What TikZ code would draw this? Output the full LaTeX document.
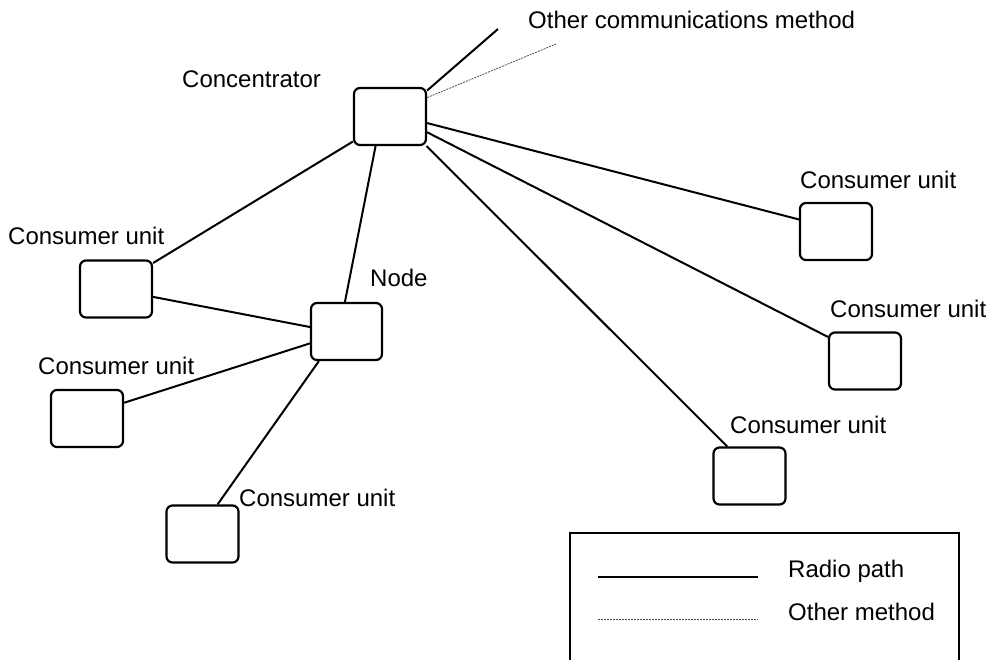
\documentclass[tikz,border=0pt]{standalone}
\usepackage{fontspec}
\setmainfont{Liberation Sans}
\begin{document}
\begin{tikzpicture}[x=1pt,y=-1pt,
  unit/.style={draw,line width=2.2pt,rounded corners=6pt,minimum width=72pt,minimum height=57pt,inner sep=0pt},
  lbl/.style={anchor=base west,inner sep=0pt,font=\fontsize{24}{28}\selectfont},
  radio/.style={line width=2pt},
  othermeth/.style={line width=0.8pt,gray!60!black,dash pattern=on 2pt off 1pt}]
\useasboundingbox (0,0) rectangle (990,659);
% units
\node[unit] (conc) at (390,116.5) {};
\node[unit] (l1) at (116,289) {};
\node[unit,minimum width=71pt] (nd) at (346.5,331.5) {};
\node[unit] (l2) at (87,418.5) {};
\node[unit] (bot) at (202.5,534) {};
\node[unit] (r1) at (836,231.5) {};
\node[unit] (r2) at (865,361) {};
\node[unit] (r3) at (749.5,476) {};
% labels
\node[lbl] (tother) at (528,28) {Other communications method};
\node[lbl] (tconc) at (182,87) {Concentrator};
\node[lbl] (tl1) at (8,244) {Consumer unit};
\node[lbl] (tnode) at (370,286) {Node};
\node[lbl] (tl2) at (38,374) {Consumer unit};
\node[lbl] (tbot) at (239,506) {Consumer unit};
\node[lbl] (tr1) at (800,188) {Consumer unit};
\node[lbl] (tr2) at (830,317) {Consumer unit};
\node[lbl] (tr3) at (730,433) {Consumer unit};
% free ends
\coordinate (oc1) at (498,29);
\coordinate (oc2) at (556,44);
% connectors
\draw[radio] (conc.35) -- (oc1);
\draw[othermeth] (conc.27) -- (oc2);
\draw[radio] (conc.214) -- (l1.35);
\draw[radio] (conc.244) -- (nd.93);
\draw[radio] (conc.-10) -- (r1.162);
\draw[radio] (conc.-23) -- (r2.147);
\draw[radio] (conc.-39) -- (r3.127);
\draw[radio] (l1.-12) -- (nd.173);
\draw[radio] (l2.23) -- (nd.198);
\draw[radio] (bot.63) -- (nd.227);
% legend
\draw[line width=2pt] (570,665) -- (570,533) -- (959,533) -- (959,665);
\coordinate (la1) at (598,577);
\coordinate (la2) at (758,577);
\coordinate (lb1) at (598,619);
\coordinate (lb2) at (758,619);
\draw[radio] (la1) -- (la2);
\draw[othermeth] (lb1) -- (lb2);
\node[lbl] (tradio) at (788,577) {Radio path};
\node[lbl] (tom) at (788,620) {Other method};
\end{tikzpicture}
\end{document}
